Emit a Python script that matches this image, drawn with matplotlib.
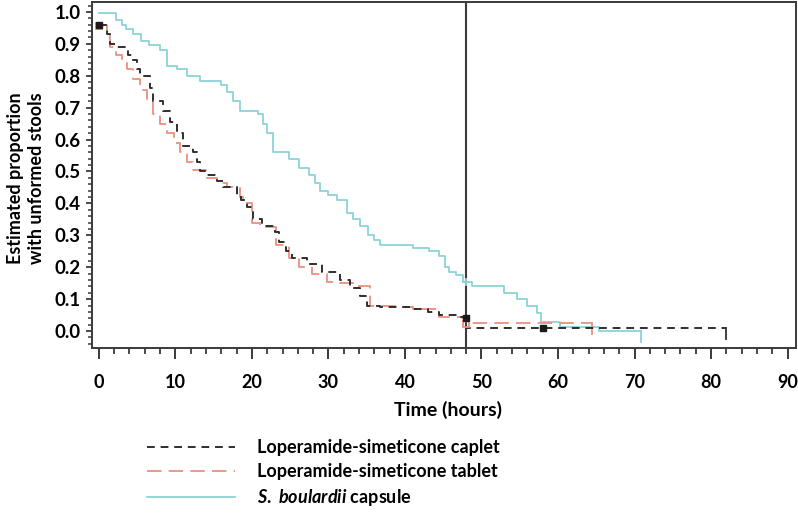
import matplotlib
matplotlib.use("Agg")
import matplotlib.pyplot as plt
from matplotlib.ticker import MultipleLocator, FormatStrFormatter

plt.rcParams['font.family'] = ['Lato', 'DejaVu Sans']
plt.rcParams['font.weight'] = 'bold'
plt.rcParams['mathtext.fontset'] = 'custom'
plt.rcParams['mathtext.it'] = 'Lato:italic:bold'
plt.rcParams['mathtext.rm'] = 'Lato:bold'

# ---- data ----
caplet_t = [0, 1.0, 1.4, 2.3, 3.8, 4.4, 5.0, 5.4, 6.7, 7.1, 8.4, 9.3, 10.2, 11.0, 12.3, 12.8,
            13.2, 14.1, 15.4, 16.2, 18.0, 18.6, 19.3, 20.1, 21.3, 23.0, 23.6, 24.5, 25.3, 27.2,
            29.2, 31.5, 32.8, 34.1, 35.0, 36.7, 41.0, 43.0, 44.5, 47.1, 48.0, 82.0]
caplet_p = [0.96, 0.93, 0.90, 0.89, 0.865, 0.85, 0.82, 0.80, 0.76, 0.72, 0.69, 0.655, 0.62, 0.58,
            0.56, 0.53, 0.50, 0.49, 0.47, 0.45, 0.425, 0.41, 0.39, 0.35, 0.33, 0.31, 0.28, 0.25,
            0.23, 0.21, 0.185, 0.16, 0.135, 0.11, 0.08, 0.075, 0.07, 0.06, 0.05, 0.045, 0.01, 0.01]

tablet_t = [0, 1.0, 1.5, 2.3, 3.0, 3.7, 4.5, 5.4, 6.3, 7.1, 8.0, 8.9, 9.8, 10.6, 11.5, 12.3,
            14.1, 15.5, 16.7, 18.4, 18.8, 20.0, 21.0, 23.2, 24.9, 26.2, 27.9, 29.8, 31.5, 33.2,
            35.4, 39.7, 41.0, 44.5, 47.5, 48.0, 64.5]
tablet_p = [0.96, 0.92, 0.89, 0.865, 0.84, 0.82, 0.79, 0.755, 0.72, 0.68, 0.65, 0.62, 0.59, 0.56,
            0.53, 0.505, 0.48, 0.465, 0.45, 0.42, 0.40, 0.34, 0.325, 0.27, 0.23, 0.20, 0.18, 0.155,
            0.15, 0.14, 0.08, 0.075, 0.07, 0.045, 0.04, 0.025, 0.025]

boul_t = [0, 2.3, 3.0, 3.6, 4.4, 5.5, 6.5, 8.0, 8.9, 10.2, 11.5, 13.2, 16.0, 16.7, 17.5, 18.4,
          20.8, 21.5, 22.0, 22.7, 24.9, 26.2, 27.5, 28.2, 28.9, 30.0, 31.1, 32.4, 33.2, 34.1,
          35.2, 36.0, 36.7, 41.0, 43.2, 44.5, 45.2, 45.8, 46.7, 47.6, 48.8, 53.0, 54.6, 55.9,
          57.2, 57.8, 60.2, 65.4, 70.9]
boul_p = [0.995, 0.975, 0.96, 0.945, 0.93, 0.91, 0.895, 0.88, 0.83, 0.82, 0.80, 0.785, 0.77, 0.75,
          0.72, 0.69, 0.68, 0.65, 0.62, 0.56, 0.54, 0.51, 0.49, 0.465, 0.44, 0.425, 0.41, 0.37,
          0.35, 0.33, 0.30, 0.285, 0.27, 0.26, 0.25, 0.235, 0.20, 0.185, 0.175, 0.155, 0.14, 0.12,
          0.10, 0.08, 0.056, 0.03, 0.013, 0.0, 0.0]

caplet_mark_t = [0, 48, 58]
caplet_mark_p = [0.96, 0.04, 0.01]
tablet_mark_t = [0, 48]
tablet_mark_p = [0.955, 0.022]
boul_mark_t = [48]
boul_mark_p = [0.155]

ref_time = 48
labels = ["Loperamide-simeticone caplet", "Loperamide-simeticone tablet",
          r"$\mathit{S.\ boulardii}$ capsule"]
xticks = list(range(0, 100, 10))
yticks = [i / 10 for i in range(11)]

c_caplet = "#2f2f2f"
c_tablet = "#ec8f7f"
c_boul = "#8ed3d6"

fig = plt.figure(figsize=(7.98, 5.13), dpi=100)
ax = fig.add_axes([92 / 798, 165 / 513, 704 / 798, 346 / 513])

l3, = ax.step(boul_t, boul_p, where='post', color=c_boul, lw=1.3, zorder=2)
l2, = ax.step(tablet_t, tablet_p, where='post', color=c_tablet, lw=1.3, dashes=(8, 4), zorder=3)
l1, = ax.step(caplet_t, caplet_p, where='post', color=c_caplet, lw=1.4, dashes=(4, 3), zorder=4)

# end-of-curve censor ticks
for t, p, c in [(caplet_t, caplet_p, c_caplet), (tablet_t, tablet_p, c_tablet), (boul_t, boul_p, c_boul)]:
    ax.plot([t[-1], t[-1]], [p[-1], p[-1] - 0.035], color=c, lw=1.3)

ax.plot(caplet_mark_t, caplet_mark_p, ls='none', marker='s', ms=5, color='#1a1a1a', zorder=6)
ax.plot(tablet_mark_t, tablet_mark_p, ls='none', marker='s', ms=5, mfc='none', mec=c_tablet, mew=1.3, zorder=5)
ax.plot(boul_mark_t, boul_mark_p, ls='none', marker='+', ms=6, color=c_boul, mew=1.3, zorder=5)

ax.axvline(ref_time, color='#3a3a3a', lw=1.5, zorder=1)

ax.set_xlim(-0.9, 91.1)
ax.set_ylim(-0.053, 1.031)
ax.set_xticks(xticks)
ax.set_yticks(yticks)
ax.xaxis.set_minor_locator(MultipleLocator(2))
ax.yaxis.set_minor_locator(MultipleLocator(0.02))
ax.yaxis.set_major_formatter(FormatStrFormatter('%.1f'))

for s in ax.spines.values():
    s.set_color('#3a3a3a')
    s.set_linewidth(1.4)

ax.tick_params(axis='x', which='major', length=8, width=1.4, color='#3a3a3a', pad=11, labelsize=13)
ax.tick_params(axis='x', which='minor', length=4, width=1.3, color='#3a3a3a')
ax.tick_params(axis='y', which='major', length=4, width=1.3, color='#3a3a3a', pad=4, labelsize=13.5)
ax.tick_params(axis='y', which='minor', length=3, width=1.1, color='#3a3a3a')
for lab in ax.get_xticklabels() + ax.get_yticklabels():
    lab.set_fontweight('bold')

fig.text(26 / 798, 1 - 178 / 513, "Estimated proportion\nwith unformed stools", rotation=90,
         ha='center', va='center', multialignment='center', fontsize=13, fontweight='bold',
         linespacing=1.3)
fig.text(448 / 798, 1 - 410 / 513, "Time (hours)", ha='center', va='center', fontsize=14,
         fontweight='bold')

leg = fig.legend([l1, l2, l3], labels, loc='upper left', bbox_to_anchor=(147 / 798, 1 - 439 / 513),
                 frameon=False, borderpad=0, borderaxespad=0, handlelength=4.9, handletextpad=1.2,
                 labelspacing=0.4, prop={'size': 13, 'weight': 'bold'})

fig.savefig("out.png", dpi=100)
